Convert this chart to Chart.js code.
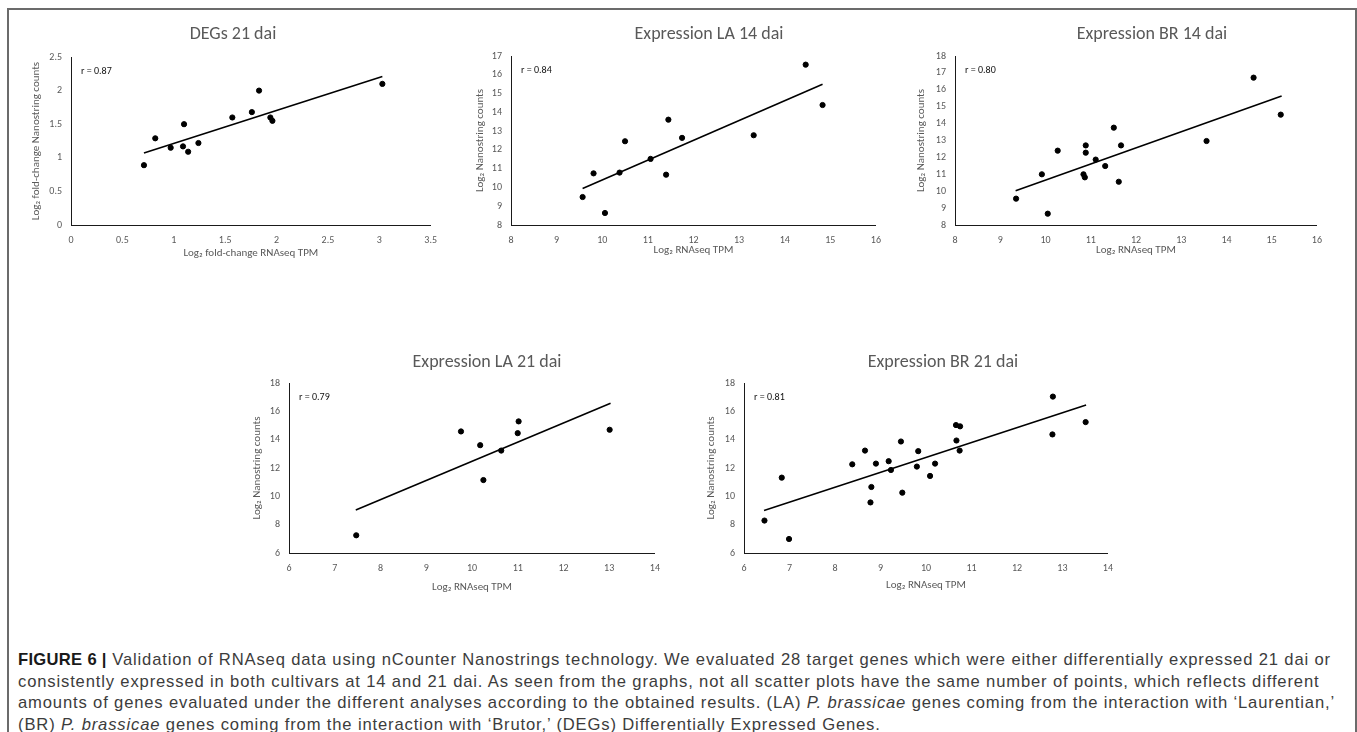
<!DOCTYPE html>
<html>
<head>
<meta charset="utf-8">
<script src="https://cdn.jsdelivr.net/npm/chart.js@4.4.0/dist/chart.umd.min.js"></script>
<style>
  body { margin: 0; background: #fff; width: 1357px; height: 732px; overflow: hidden; position: relative; }
  #frame { position: absolute; left: 7px; top: 8px; width: 1346px; height: 740px; border: 2px solid #6b6b6b; border-bottom: none; }
  canvas { position: absolute; }
  #caption { position: absolute; left: 18px; top: 649px; font-family: "Liberation Sans", Arial, sans-serif; font-size: 16.6px; letter-spacing: 0.85px; line-height: 21.5px; color: #3c3c3c; white-space: nowrap; }
  #caption b { color: #1a1a1a; letter-spacing: 0.3px; }
</style>
</head>
<body>
<div id="frame"></div>
<canvas id="c1"></canvas>
<canvas id="c2"></canvas>
<canvas id="c3"></canvas>
<canvas id="c4"></canvas>
<canvas id="c5"></canvas>
<div id="caption">
<b>FIGURE 6 |</b> Validation of RNAseq data using nCounter Nanostrings technology. We evaluated 28 target genes which were either differentially expressed 21 dai or<br>
consistently expressed in both cultivars at 14 and 21 dai. As seen from the graphs, not all scatter plots have the same number of points, which reflects different<br>
amounts of genes evaluated under the different analyses according to the obtained results. (LA) <i>P. brassicae</i> genes coming from the interaction with ‘Laurentian,’<br>
(BR) <i>P. brassicae</i> genes coming from the interaction with ‘Brutor,’ (DEGs) Differentially Expressed Genes.
</div>
<script>
// DEGs 21 dai
var degsX = [0.71, 0.82, 0.97, 1.09, 1.10, 1.14, 1.24, 1.57, 1.76, 1.83, 1.94, 1.96, 3.03];
var degsY = [0.89, 1.29, 1.15, 1.17, 1.50, 1.09, 1.22, 1.60, 1.68, 2.00, 1.60, 1.55, 2.10];
var degsTrendX = [0.71, 3.03];
var degsTrendY = [1.07, 2.21];

// Expression LA 14 dai
var la14X = [9.57, 9.81, 10.06, 10.38, 10.50, 11.06, 11.40, 11.45, 11.75, 13.32, 14.46, 14.83];
var la14Y = [9.49, 10.75, 8.64, 10.79, 12.46, 11.52, 10.68, 13.61, 12.64, 12.78, 16.54, 14.39];
var la14TrendX = [9.57, 14.83];
var la14TrendY = [9.94, 15.50];

// Expression BR 14 dai
var br14X = [9.35, 9.92, 10.05, 10.27, 10.84, 10.87, 10.89, 10.89, 11.11, 11.32, 11.51, 11.62, 11.67, 13.56, 14.60, 15.20];
var br14Y = [9.56, 11.00, 8.67, 12.40, 11.00, 10.82, 12.71, 12.28, 11.87, 11.49, 13.76, 10.56, 12.71, 12.97, 16.72, 14.53];
var br14TrendX = [9.34, 15.22];
var br14TrendY = [10.03, 15.63];

// Expression LA 21 dai
var la21X = [7.47, 9.76, 10.18, 10.25, 10.64, 11.00, 11.02, 13.01];
var la21Y = [7.25, 14.58, 13.61, 11.15, 13.23, 14.46, 15.29, 14.70];
var la21TrendX = [7.46, 13.03];
var la21TrendY = [9.03, 16.57];

// Expression BR 21 dai
var br21X = [6.45, 6.83, 6.99, 8.38, 8.66, 8.80, 8.78, 8.90, 9.18, 9.23, 9.45, 9.48, 9.80, 9.83, 10.09, 10.20, 10.66, 10.67, 10.75, 10.74, 12.79, 12.78, 13.51];
var br21Y = [8.29, 11.32, 6.99, 12.26, 13.23, 10.66, 9.57, 12.31, 12.48, 11.86, 13.87, 10.26, 12.10, 13.19, 11.44, 12.31, 15.03, 13.94, 14.94, 13.23, 17.04, 14.37, 15.24];
var br21TrendX = [6.44, 13.52];
var br21TrendY = [9.00, 16.45];

var gray = "#595959";
var fontFam = "Carlito, Lato, 'Open Sans', sans-serif";

// draws chart title and the r label
var labelsPlugin = {
  id: "labels",
  afterDraw: function (chart) {
    var o = chart.options.plugins.labels;
    var ctx = chart.ctx;
    ctx.save();
    ctx.textBaseline = "middle";
    ctx.fillStyle = gray;
    ctx.font = "18px " + fontFam;
    ctx.textAlign = "center";
    ctx.fillText(o.title, o.titleX, o.titleY);
    ctx.fillStyle = "#111";
    ctx.font = "10px " + fontFam;
    ctx.textAlign = "left";
    ctx.fillText(o.r, chart.chartArea.left + 10, chart.chartArea.top + 14);
    ctx.restore();
  }
};

function toPoints(xs, ys) {
  return xs.map(function (x, i) { return { x: x, y: ys[i] }; });
}

// Excel style tick text: 2 instead of 2.0
function plainTick(v) {
  return String(Math.round(v * 100) / 100);
}

function makeChart(id, s) {
  var canvas = document.getElementById(id);
  var xAxisH = Math.round(s.xTitleBelow + 10.6);
  canvas.width = s.R + 10 - s.left;
  canvas.height = s.B + xAxisH - s.top;
  canvas.style.left = s.left + "px";
  canvas.style.top = s.top + "px";

  new Chart(canvas.getContext("2d"), {
    type: "scatter",
    data: {
      datasets: [{
        data: toPoints(s.xs, s.ys),
        backgroundColor: "#000",
        borderColor: "#000",
        pointRadius: 2.6,
        pointHoverRadius: 2.6
      }, {
        data: toPoints(s.tx, s.ty),
        showLine: true,
        borderColor: "#000",
        borderWidth: 1.6,
        pointRadius: 0,
        fill: false
      }]
    },
    options: {
      responsive: false,
      animation: false,
      devicePixelRatio: 1,
      layout: { padding: { top: s.T - s.top, right: 10, left: 0, bottom: 0 } },
      plugins: {
        legend: { display: false },
        tooltip: { enabled: false },
        labels: { title: s.title, titleX: s.titleX - s.left, titleY: s.titleY - s.top, r: s.r }
      },
      scales: {
        x: {
          type: "linear",
          min: s.xMin, max: s.xMax,
          afterFit: function (scale) { scale.height = xAxisH; },
          grid: { display: false, drawTicks: false },
          border: { display: true, color: "#1a1a1a", width: 1 },
          ticks: { stepSize: s.xStep, color: gray, font: { size: 10, family: fontFam }, padding: 9, maxRotation: 0, callback: plainTick },
          title: { display: true, text: s.xTitle, color: gray, font: { size: 11, family: fontFam }, padding: { top: 0, bottom: 4 } }
        },
        y: {
          type: "linear",
          min: s.yMin, max: s.yMax,
          afterFit: function (scale) { scale.width = s.L - s.left; },
          grid: { display: false, drawTicks: false },
          border: { display: true, color: "#1a1a1a", width: 1 },
          ticks: { stepSize: s.yStep, color: gray, font: { size: 10, family: fontFam }, padding: 9, callback: plainTick },
          title: { display: true, text: s.yTitle, color: gray, font: { size: 11, family: fontFam }, padding: { top: 15, bottom: 0 } }
        }
      }
    },
    plugins: [labelsPlugin]
  });
}

makeChart("c1", {
  xs: degsX, ys: degsY, tx: degsTrendX, ty: degsTrendY,
  title: "DEGs 21 dai", r: "r = 0.87",
  xTitle: "Log₂ fold-change RNAseq TPM", yTitle: "Log₂ fold-change Nanostring counts",
  xMin: 0, xMax: 3.5, xStep: 0.5, yMin: 0, yMax: 2.5, yStep: 0.5,
  left: 15, top: 15, L: 71, R: 436, T: 57, B: 225, xTitleBelow: 28, titleX: 233, titleY: 34
});

makeChart("c2", {
  xs: la14X, ys: la14Y, tx: la14TrendX, ty: la14TrendY,
  title: "Expression LA 14 dai", r: "r = 0.84",
  xTitle: "Log₂ RNAseq TPM", yTitle: "Log₂ Nanostring counts",
  xMin: 8, xMax: 16, xStep: 1, yMin: 8, yMax: 17, yStep: 1,
  left: 459, top: 15, L: 511, R: 880, T: 56, B: 225, xTitleBelow: 25.5, titleX: 709, titleY: 34
});

makeChart("c3", {
  xs: br14X, ys: br14Y, tx: br14TrendX, ty: br14TrendY,
  title: "Expression BR 14 dai", r: "r = 0.80",
  xTitle: "Log₂ RNAseq TPM", yTitle: "Log₂ Nanostring counts",
  xMin: 8, xMax: 16, xStep: 1, yMin: 8, yMax: 18, yStep: 1,
  left: 900, top: 15, L: 955, R: 1321, T: 56, B: 225, xTitleBelow: 25.5, titleX: 1152, titleY: 34
});

makeChart("c4", {
  xs: la21X, ys: la21Y, tx: la21TrendX, ty: la21TrendY,
  title: "Expression LA 21 dai", r: "r = 0.79",
  xTitle: "Log₂ RNAseq TPM", yTitle: "Log₂ Nanostring counts",
  xMin: 6, xMax: 14, xStep: 1, yMin: 6, yMax: 18, yStep: 2,
  left: 236, top: 341, L: 289, R: 659, T: 383, B: 553, xTitleBelow: 34, titleX: 487, titleY: 362
});

makeChart("c5", {
  xs: br21X, ys: br21Y, tx: br21TrendX, ty: br21TrendY,
  title: "Expression BR 21 dai", r: "r = 0.81",
  xTitle: "Log₂ RNAseq TPM", yTitle: "Log₂ Nanostring counts",
  xMin: 6, xMax: 14, xStep: 1, yMin: 6, yMax: 18, yStep: 2,
  left: 690, top: 341, L: 744, R: 1112, T: 383, B: 553, xTitleBelow: 32.5, titleX: 943, titleY: 362
});
</script>
</body>
</html>
